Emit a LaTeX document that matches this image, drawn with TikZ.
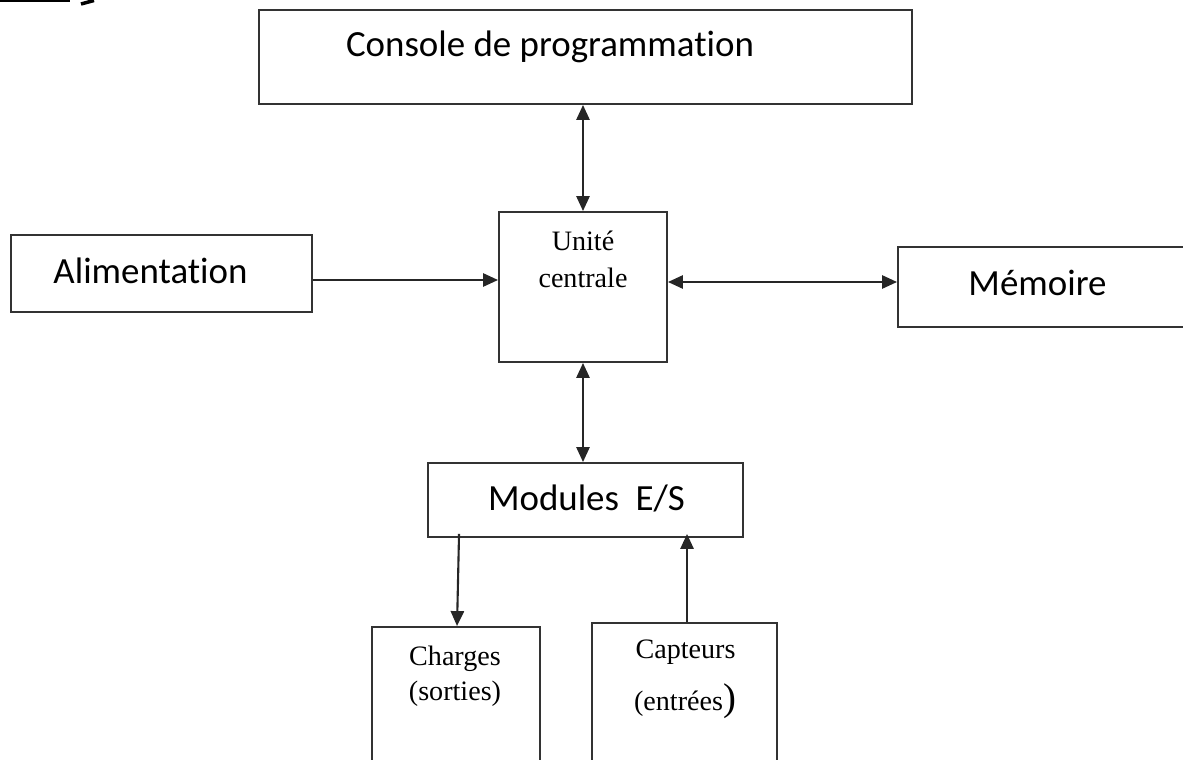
\documentclass[tikz,border=0pt]{standalone}
\usepackage{fontspec}
\setmainfont{Liberation Serif}
\newfontfamily\calibri[Ligatures=CommonOff]{Carlito}
\usetikzlibrary{positioning,arrows.meta,calc}
\newcommand{\pxu}{0.02cm}
\tikzset{
  blk/.style={draw=black!80, line width=1.1pt, inner sep=0pt, fill=white},
  sanstxt/.style={font=\calibri\fontsize{21}{25}\selectfont, anchor=base, inner sep=0pt},
  sertxt/.style={font=\fontsize{16}{19}\selectfont, anchor=base, inner sep=0pt},
  arr/.style={-{Triangle[length=8.5pt, width=7.5pt]}, line width=1.2pt, black!85},
  dbl/.style={{Triangle[length=8.5pt, width=7.5pt]}-{Triangle[length=8.5pt, width=7.5pt]}, line width=1.2pt, black!85},
}
\begin{document}
\begin{tikzpicture}[x=0.02cm, y=-0.02cm]
  \useasboundingbox (0,0) rectangle (1183,760);
  \clip (0,0) rectangle (1183,760);
  % blocs
  \node[blk, minimum width=653*\pxu, minimum height=94*\pxu] (console) at (585.5,57) {};
  \node[blk, minimum width=168*\pxu, minimum height=150*\pxu] (uc) at (583,287) {};
  \node[blk, minimum width=301*\pxu, minimum height=77*\pxu] (alim) at (161.5,273.5) {};
  \node[blk, minimum width=292*\pxu, minimum height=80*\pxu] (mem) at (1044,287) {};
  \node[blk, minimum width=315*\pxu, minimum height=74*\pxu] (mod) at (585.5,500) {};
  \node[blk, minimum width=168*\pxu, minimum height=173*\pxu] (chg) at (456,713.5) {};
  \node[blk, minimum width=185*\pxu, minimum height=177*\pxu] (capt) at (684.5,711.5) {};
  % textes
  \node[sanstxt] (consolet) at (550,57) {Console de programmation};
  \node[sanstxt] (alimt) at (150.5,283) {Alimentation};
  \node[sanstxt] (memt) at (1037.5,296) {Mémoire};
  \node[sanstxt] (modt) at (586.5,510) {Modules\ \ E/S};
  \node[sertxt] (uct1) at (583,251) {Unité};
  \node[sertxt] (uct2) at (583,287) {centrale};
  \node[sertxt] (chgt1) at (455,665) {Charges};
  \node[sertxt] (chgt2) at (455,700) {(sorties)};
  \node[sertxt] (captt1) at (685.5,658) {Capteurs};
  \node[sertxt] (captt2) at (685,710) {(entrées{\fontsize{22}{22}\selectfont )}};
  % liaisons
  \draw[dbl] (uc.north) -- (uc.north |- console.south);
  \draw[arr] (alim.east |- 0,280) -- (uc.west |- 0,280);
  \draw[dbl] (uc.east |- 0,282) -- (mem.west |- 0,282);
  \draw[dbl] (uc.south) -- (uc.south |- mod.north);
  \draw[arr] ([shift={(32,-4)}]mod.south west) -- ([shift={(86,0)}]chg.north west);
  \draw[arr] ([shift={(96,0)}]capt.north west) -- ([shift={(260,-4)}]mod.south west);
  % trait en haut a gauche
  \draw[line width=1.3pt] (0,0.5) -- (70,0.5);
  \draw[line width=2pt] (81,4) -- (94,0.5);
\end{tikzpicture}
\end{document}
